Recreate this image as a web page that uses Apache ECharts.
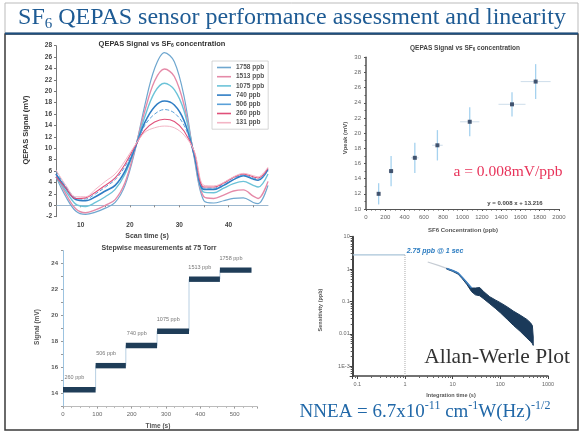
<!DOCTYPE html>
<html><head><meta charset="utf-8">
<script src="https://cdn.jsdelivr.net/npm/echarts@6/dist/echarts.min.js"></script>
<style>html,body{margin:0;padding:0;background:#fff}#c{width:584px;height:434px}</style>
</head><body><div id="c"></div>
<script>
// ---------- Top-left: 2f scans ----------
const scanTime = [5,7,9,11,13,15,17,19,21,23,25,27,29,31,33,35,37,39,41,43,45,46,48];
const sig1758 = [5.0,1.5,-1.0,-1.6,-1.2,-0.5,0.5,3.5,9.5,17.5,24.0,26.8,25.2,19.0,8.5,0.8,0.4,0.8,1.2,1.3,0.5,0.3,3.5];
const sig1513 = [5.5,2.0,-0.6,-1.3,-0.8,0.0,1.0,4.0,9.8,16.5,21.8,23.9,22.6,17.5,8.8,1.5,1.2,1.8,2.5,2.7,1.6,1.2,4.2];
const sig1075 = [5.0,2.5,0.2,-0.2,0.5,1.5,2.8,5.5,10.0,15.5,19.8,21.4,20.3,16.5,9.0,2.3,2.2,3.0,3.8,4.2,3.5,3.2,5.5];
const sig740  = [5.5,3.0,1.0,0.8,1.5,2.5,3.5,6.0,10.0,14.5,17.3,18.3,17.6,14.8,9.0,2.8,2.8,3.5,4.5,5.2,4.6,4.4,6.3];
const sig506  = [6.0,3.3,1.3,1.1,2.0,3.2,4.5,6.8,10.2,14.0,16.0,16.8,16.2,14.0,9.2,3.0,3.0,3.8,4.8,5.3,4.8,4.6,6.0];
const sig260  = [5.0,3.0,1.2,1.3,2.3,3.5,4.8,7.2,10.3,13.2,14.6,15.1,14.7,13.0,9.5,3.2,3.2,3.9,4.9,5.5,5.0,4.8,6.5];
const sig131  = [6.2,3.5,1.5,1.5,2.8,4.2,5.5,7.8,10.5,12.8,13.6,13.9,13.6,12.3,9.6,3.5,3.4,4.0,5.0,5.6,5.2,5.0,6.7];
const concNames = ['1758 ppb','1513 ppb','1075 ppb','740 ppb','506 ppb','260 ppb','131 ppb'];

// ---------- Top-right: linearity ----------
const concPpb  = [131,260,506,740,1075,1513,1758];
const vpeak    = [12.0,15.0,16.75,18.4,21.5,23.8,26.8];
const vpeakErr = [1.4,2.0,2.0,2.0,1.9,1.6,2.3];
const concErr  = [12,24,40,55,100,140,155];

// ---------- Bottom-left: stepwise ----------
const stepStart  = [0,95,183,274,367,457];
const stepEnd    = [95,183,274,367,457,549];
const stepLevel  = [14.3,16.15,17.7,18.8,22.8,23.5];
const stepLabels = ['260 ppb','506 ppb','740 ppb','1075 ppb','1513 ppb','1758 ppb'];

// ---------- Bottom-right: Allan-Werle ----------
const allanFaintT = [3,5,7.5];
const allanFaintS = [1.65,1.3,1.05];
const allanTime  = [7.5,10,13,16,20,25,30,37,45,60,80,100,140,190,260,360,430,470,490];
const allanUpper = [1.05,0.9,0.76,0.55,0.38,0.26,0.26,0.27,0.2,0.14,0.11,0.092,0.068,0.05,0.038,0.028,0.022,0.018,0.008];
const allanLower = [1.0,0.85,0.7,0.5,0.33,0.2,0.16,0.15,0.12,0.085,0.06,0.045,0.028,0.018,0.012,0.0075,0.0058,0.005,0.0044];
const refTime = 1, refSens = 2.75;
const allanXMin = 0.08, allanYMin = 0.0005;

const SANS = 'Liberation Sans, Arial, sans-serif';
const SERIF = 'Liberation Serif, Times New Roman, serif';

const chart = echarts.init(document.getElementById('c'));

function lbl(extra){ return Object.assign({fontSize:6.5, color:'#444', fontFamily:SANS, fontWeight:'bold'}, extra||{}); }

const scanDefs = [
  [sig1758,'#6fa7cf',1.2,'solid'],
  [sig1513,'#e58aa8',1.4,'solid'],
  [sig1075,'#6cc3d8',1.4,'solid'],
  [sig740,'#2f7dc4',1.6,'solid'],
  [sig506,'#5aa0d8',1.0,'dashed'],
  [sig260,'#e0507a',1.1,'solid'],
  [sig131,'#f3b5c5',1.0,'solid']
];

const series = [];
scanDefs.forEach((d,k)=>{
  series.push({name:concNames[k], type:'line', xAxisIndex:0, yAxisIndex:0, smooth:0.35, symbol:'none',
    data: scanTime.map((t,i)=>[t,d[0][i]]), lineStyle:{color:d[1], width:d[2], type:d[3]}, itemStyle:{color:d[1]}, z:2});
});

// error bars
series.push({type:'custom', xAxisIndex:1, yAxisIndex:1, z:1,
  data: concPpb.map((c,i)=>[c,vpeak[i],vpeakErr[i],concErr[i]]),
  renderItem:(p,api)=>{
    const c=api.value(0), v=api.value(1), ev=api.value(2), ec=api.value(3);
    const t=api.coord([c,v+ev]), b=api.coord([c,v-ev]), l=api.coord([c-ec,v]), r=api.coord([c+ec,v]);
    return {type:'group', children:[
      {type:'line', shape:{x1:t[0],y1:t[1],x2:b[0],y2:b[1]}, style:{stroke:'#a6d2ef', lineWidth:1.3}},
      {type:'line', shape:{x1:l[0],y1:l[1],x2:r[0],y2:r[1]}, style:{stroke:'#d2e0ec', lineWidth:1.1}}
    ]};
  }});
series.push({type:'scatter', xAxisIndex:1, yAxisIndex:1, symbol:'rect', symbolSize:4, z:3,
  data: concPpb.map((c,i)=>[c,vpeak[i]]), itemStyle:{color:'#1d2f4f'}});

// stepwise thin line
const stepPts = [];
stepLevel.forEach((v,i)=>{ stepPts.push([stepStart[i],v]); stepPts.push([stepEnd[i],v]); });
series.push({type:'line', xAxisIndex:2, yAxisIndex:2, symbol:'none', data:stepPts, lineStyle:{color:'#b8cfe2', width:1}, z:1});
series.push({type:'custom', xAxisIndex:2, yAxisIndex:2, z:2,
  data: stepLevel.map((v,i)=>[stepStart[i],v,stepEnd[i]]), encode:{x:[0,2], y:1},
  renderItem:(p,api)=>{
    const a=api.coord([api.value(0),api.value(1)]), b=api.coord([api.value(2),api.value(1)]);
    return {type:'group', children:[
      {type:'rect', shape:{x:a[0], y:a[1]-2.7, width:b[0]-a[0], height:5.4}, style:{fill:'#1f3d58'}},
      {type:'text', style:{text:stepLabels[p.dataIndex], x:a[0]+(b[0]-a[0])*0.35, y:a[1]-12, align:'center', verticalAlign:'middle', fontSize:5.5, fontFamily:SANS, fill:'#777'}}
    ]};
  }});

// Allan
series.push({type:'line', xAxisIndex:3, yAxisIndex:3, symbol:'none', data:[[allanXMin,refSens],[refTime,refSens]], lineStyle:{color:'#a9c4d8', width:1.2}, z:1});
series.push({type:'line', xAxisIndex:3, yAxisIndex:3, symbol:'none', data:[[refTime,allanYMin],[refTime,refSens]], lineStyle:{color:'#aaa', width:1, type:'dotted'}, z:1});
series.push({type:'line', xAxisIndex:3, yAxisIndex:3, symbol:'none', data:allanFaintT.map((t,i)=>[t,allanFaintS[i]]), lineStyle:{color:'#c6ccd4', width:1.2}, z:1});
series.push({type:'custom', xAxisIndex:3, yAxisIndex:3, z:2, data:[[allanTime[0],allanUpper[0]]],
  renderItem:(p,api)=>{
    const pts=[];
    allanTime.forEach((t,i)=>pts.push(api.coord([t,allanUpper[i]])));
    for(let i=allanTime.length-1;i>=0;i--) pts.push(api.coord([allanTime[i],allanLower[i]]));
    return {type:'polygon', shape:{points:pts}, style:{fill:'#1b3a5a', stroke:'#1b3a5a', lineWidth:1}};
  }});
series.push({type:'line', xAxisIndex:3, yAxisIndex:3, symbol:'none', z:3,
  data: allanTime.filter(t=>t<=25).map((t,i)=>[t,allanUpper[i]]), lineStyle:{color:'#3d7fbf', width:1.6}});

function logLabel(map){ return v=>{ const e=Math.round(Math.log10(v)); if(Math.abs(Math.log10(v)-e)>0.01) return ''; return map[e]!==undefined?map[e]:''; }; }

const option = {
  animation:false,
  backgroundColor:'#fff',
  grid:[
    {left:56, top:45.7, width:212, height:171},
    {left:366, top:57.3, width:193, height:151.7},
    {left:63, top:250.6, width:194, height:156},
    {left:352.7, top:236.7, width:195.3, height:139.3}
  ],
  legend:[{data:concNames, left:212, top:61, orient:'vertical', icon:'rect', itemWidth:14, itemHeight:1.6, itemGap:2.2,
    textStyle:{fontSize:6.5, lineHeight:7, color:'#555', fontFamily:SANS, fontWeight:'bold'},
    padding:[3,4,3,5], borderColor:'#ccc', borderWidth:0.8, backgroundColor:'#fff'}],
  xAxis:[
    {gridIndex:0, type:'value', min:5, max:48, interval:5,
      axisLabel:lbl({margin:5, showMaxLabel:false, formatter:v=>v%10===0?String(v):''}),
      axisLine:{lineStyle:{color:'#9db8cf', width:1}}, axisTick:{length:2, lineStyle:{color:'#888'}}, splitLine:{show:false}},
    {gridIndex:1, type:'value', min:0, max:2000, interval:200,
      axisLabel:lbl({margin:5, fontSize:6, color:'#666', fontWeight:'normal', formatter:v=>String(v)}),
      axisLine:{lineStyle:{color:'#555', width:1.2}}, axisTick:{length:2, lineStyle:{color:'#555'}}, minorTick:{show:true, splitNumber:4, length:1.5}, splitLine:{show:false}},
    {gridIndex:2, type:'value', min:0, max:565, interval:100,
      axisLabel:lbl({margin:5, fontSize:6, color:'#666', fontWeight:'normal', showMaxLabel:false, formatter:v=>String(v)}),
      axisLine:{lineStyle:{color:'#bbb', width:1}}, axisTick:{length:2, lineStyle:{color:'#999'}}, minorTick:{show:true, splitNumber:4, length:1.5, lineStyle:{color:'#bbb'}}, splitLine:{show:false}},
    {gridIndex:3, type:'log', logBase:10, min:allanXMin, max:1000,
      axisLabel:lbl({margin:5, fontSize:5.5, color:'#666', fontWeight:'normal', showMinLabel:false, formatter:logLabel({'-1':'0.1','0':'1','1':'10','2':'100','3':'1000'})}),
      axisLine:{lineStyle:{color:'#444', width:1.5}}, axisTick:{length:3, lineStyle:{color:'#444'}}, minorTick:{show:true, splitNumber:9, length:2, lineStyle:{color:'#666'}}, splitLine:{show:false}}
  ],
  yAxis:[
    {gridIndex:0, type:'value', min:-2, max:28, interval:2,
      axisLabel:lbl({margin:4}), axisLine:{show:true, lineStyle:{color:'#777', width:1}}, axisTick:{show:true, length:2, lineStyle:{color:'#777'}}, splitLine:{show:false}},
    {gridIndex:1, type:'value', min:10, max:30, interval:2,
      axisLabel:lbl({margin:5, fontSize:6, color:'#666', fontWeight:'normal'}), axisLine:{show:true, lineStyle:{color:'#555', width:1.5}}, axisTick:{show:true, length:2, lineStyle:{color:'#555'}}, minorTick:{show:true, splitNumber:2, length:1.5}, splitLine:{show:false}},
    {gridIndex:2, type:'value', min:13, max:25, interval:1,
      axisLabel:lbl({margin:5, fontSize:6, color:'#555', formatter:v=>v%2===0?String(v):''}), axisLine:{show:true, lineStyle:{color:'#9cc3e0', width:1}}, axisTick:{show:true, length:2, lineStyle:{color:'#999'}}, splitLine:{show:false}},
    {gridIndex:3, type:'log', logBase:10, min:allanYMin, max:10,
      axisLabel:lbl({margin:3, fontSize:5.5, color:'#666', fontWeight:'normal', showMinLabel:false, formatter:logLabel({'1':'10','0':'1','-1':'0.1','-2':'0.01','-3':'1E-3'})}),
      axisLine:{show:true, lineStyle:{color:'#444', width:2}}, axisTick:{show:true, length:3, lineStyle:{color:'#444'}}, minorTick:{show:true, splitNumber:9, length:2, lineStyle:{color:'#555'}}, splitLine:{show:false}}
  ],
  series,
  graphic:[
    {type:'rect', shape:{x:5, y:3, width:573, height:30}, style:{fill:'none', stroke:'#bbb', lineWidth:1}, z:0},
    {type:'rect', shape:{x:5, y:34, width:573, height:396}, style:{fill:'none', stroke:'#3a3a3a', lineWidth:1.5}, z:0},
    {type:'line', shape:{x1:5, y1:33.5, x2:578, y2:33.5}, style:{stroke:'#1d4f80', lineWidth:2}, z:1},
    {type:'text', x:292, y:18, style:{text:'{a|SF}{s|6}{a| QEPAS sensor performance assessment and linearity}', align:'center', verticalAlign:'middle',
      rich:{a:{fontSize:24, fontFamily:SERIF, fill:'#1e5b94', lineHeight:28}, s:{fontSize:15, fontFamily:SERIF, fill:'#1e5b94', lineHeight:14, verticalAlign:'bottom'}}}},
    // top-left texts
    {type:'text', x:162, y:43.5, style:{text:'{a|QEPAS Signal vs SF}{s|6}{a| concentration}', align:'center', verticalAlign:'middle',
      rich:{a:{fontSize:7.5, fontFamily:SANS, fontWeight:'bold', fill:'#333', lineHeight:9}, s:{fontSize:5, fontFamily:SANS, fontWeight:'bold', fill:'#333', lineHeight:5, verticalAlign:'bottom'}}}},
    {type:'text', x:26, y:130, rotation:Math.PI/2, style:{text:'QEPAS Signal (mV)', align:'center', verticalAlign:'middle', fontSize:7.5, fontWeight:'bold', fontFamily:SANS, fill:'#333'}},
    {type:'text', x:147, y:236.5, style:{text:'Scan time (s)', align:'center', verticalAlign:'middle', fontSize:7, fontWeight:'bold', fontFamily:SANS, fill:'#444'}},
    // bottom-left texts
    {type:'text', x:159, y:248, style:{text:'Stepwise measurements at 75 Torr', align:'center', verticalAlign:'middle', fontSize:7, fontWeight:'bold', fontFamily:SANS, fill:'#444'}},
    {type:'text', x:37, y:327, rotation:Math.PI/2, style:{text:'Signal (mV)', align:'center', verticalAlign:'middle', fontSize:6.5, fontWeight:'bold', fontFamily:SANS, fill:'#555'}},
    {type:'text', x:158, y:426, style:{text:'Time (s)', align:'center', verticalAlign:'middle', fontSize:6.5, fontWeight:'bold', fontFamily:SANS, fill:'#555'}},
    // top-right texts
    {type:'text', x:465, y:48, style:{text:'{a|QEPAS Signal vs SF}{s|6}{a| concentration}', align:'center', verticalAlign:'middle',
      rich:{a:{fontSize:6.5, fontFamily:SANS, fontWeight:'bold', fill:'#444', lineHeight:8}, s:{fontSize:4.5, fontFamily:SANS, fontWeight:'bold', fill:'#444', lineHeight:4, verticalAlign:'bottom'}}}},
    {type:'text', x:345, y:138, rotation:Math.PI/2, style:{text:'Vpeak (mV)', align:'center', verticalAlign:'middle', fontSize:6, fontWeight:'bold', fontFamily:SANS, fill:'#555'}},
    {type:'text', x:463, y:230, style:{text:'SF6 Concentration (ppb)', align:'center', verticalAlign:'middle', fontSize:6, fontWeight:'bold', fontFamily:SANS, fill:'#555'}},
    {type:'text', x:508, y:172, style:{text:'a = 0.008mV/ppb', align:'center', verticalAlign:'middle', fontSize:15.5, fontFamily:SERIF, fill:'#e8335a'}},
    {type:'text', x:515, y:203, style:{text:'y = 0.008 x + 13.216', align:'center', verticalAlign:'middle', fontSize:6, fontWeight:'bold', fontFamily:SANS, fill:'#444'}},
    // bottom-right texts
    {type:'text', x:320, y:310, rotation:Math.PI/2, style:{text:'Sensitivity (ppb)', align:'center', verticalAlign:'middle', fontSize:5.5, fontWeight:'bold', fontFamily:SANS, fill:'#555'}},
    {type:'text', x:451, y:395, style:{text:'Integration time (s)', align:'center', verticalAlign:'middle', fontSize:5.5, fontWeight:'bold', fontFamily:SANS, fill:'#555'}},
    {type:'text', x:435, y:251, style:{text:'2.75 ppb @ 1 sec', align:'center', verticalAlign:'middle', fontSize:7, fontWeight:'bold', fontStyle:'italic', fontFamily:SANS, fill:'#2a7bc0'}},
    {type:'text', x:497, y:357, style:{text:'Allan-Werle Plot', align:'center', verticalAlign:'middle', fontSize:21.5, fontFamily:SERIF, fill:'#333'}},
    {type:'text', x:425, y:412, style:{text:'{a|NNEA = 6.7x10}{s|-11}{a| cm}{s|-1}{a|W(Hz)}{s|-1/2}', align:'center', verticalAlign:'middle',
      rich:{a:{fontSize:19, fontFamily:SERIF, fill:'#2168a8', lineHeight:24}, s:{fontSize:12, fontFamily:SERIF, fill:'#2168a8', lineHeight:12, verticalAlign:'top'}}}}
  ]
};
chart.setOption(option);
</script></body></html>
